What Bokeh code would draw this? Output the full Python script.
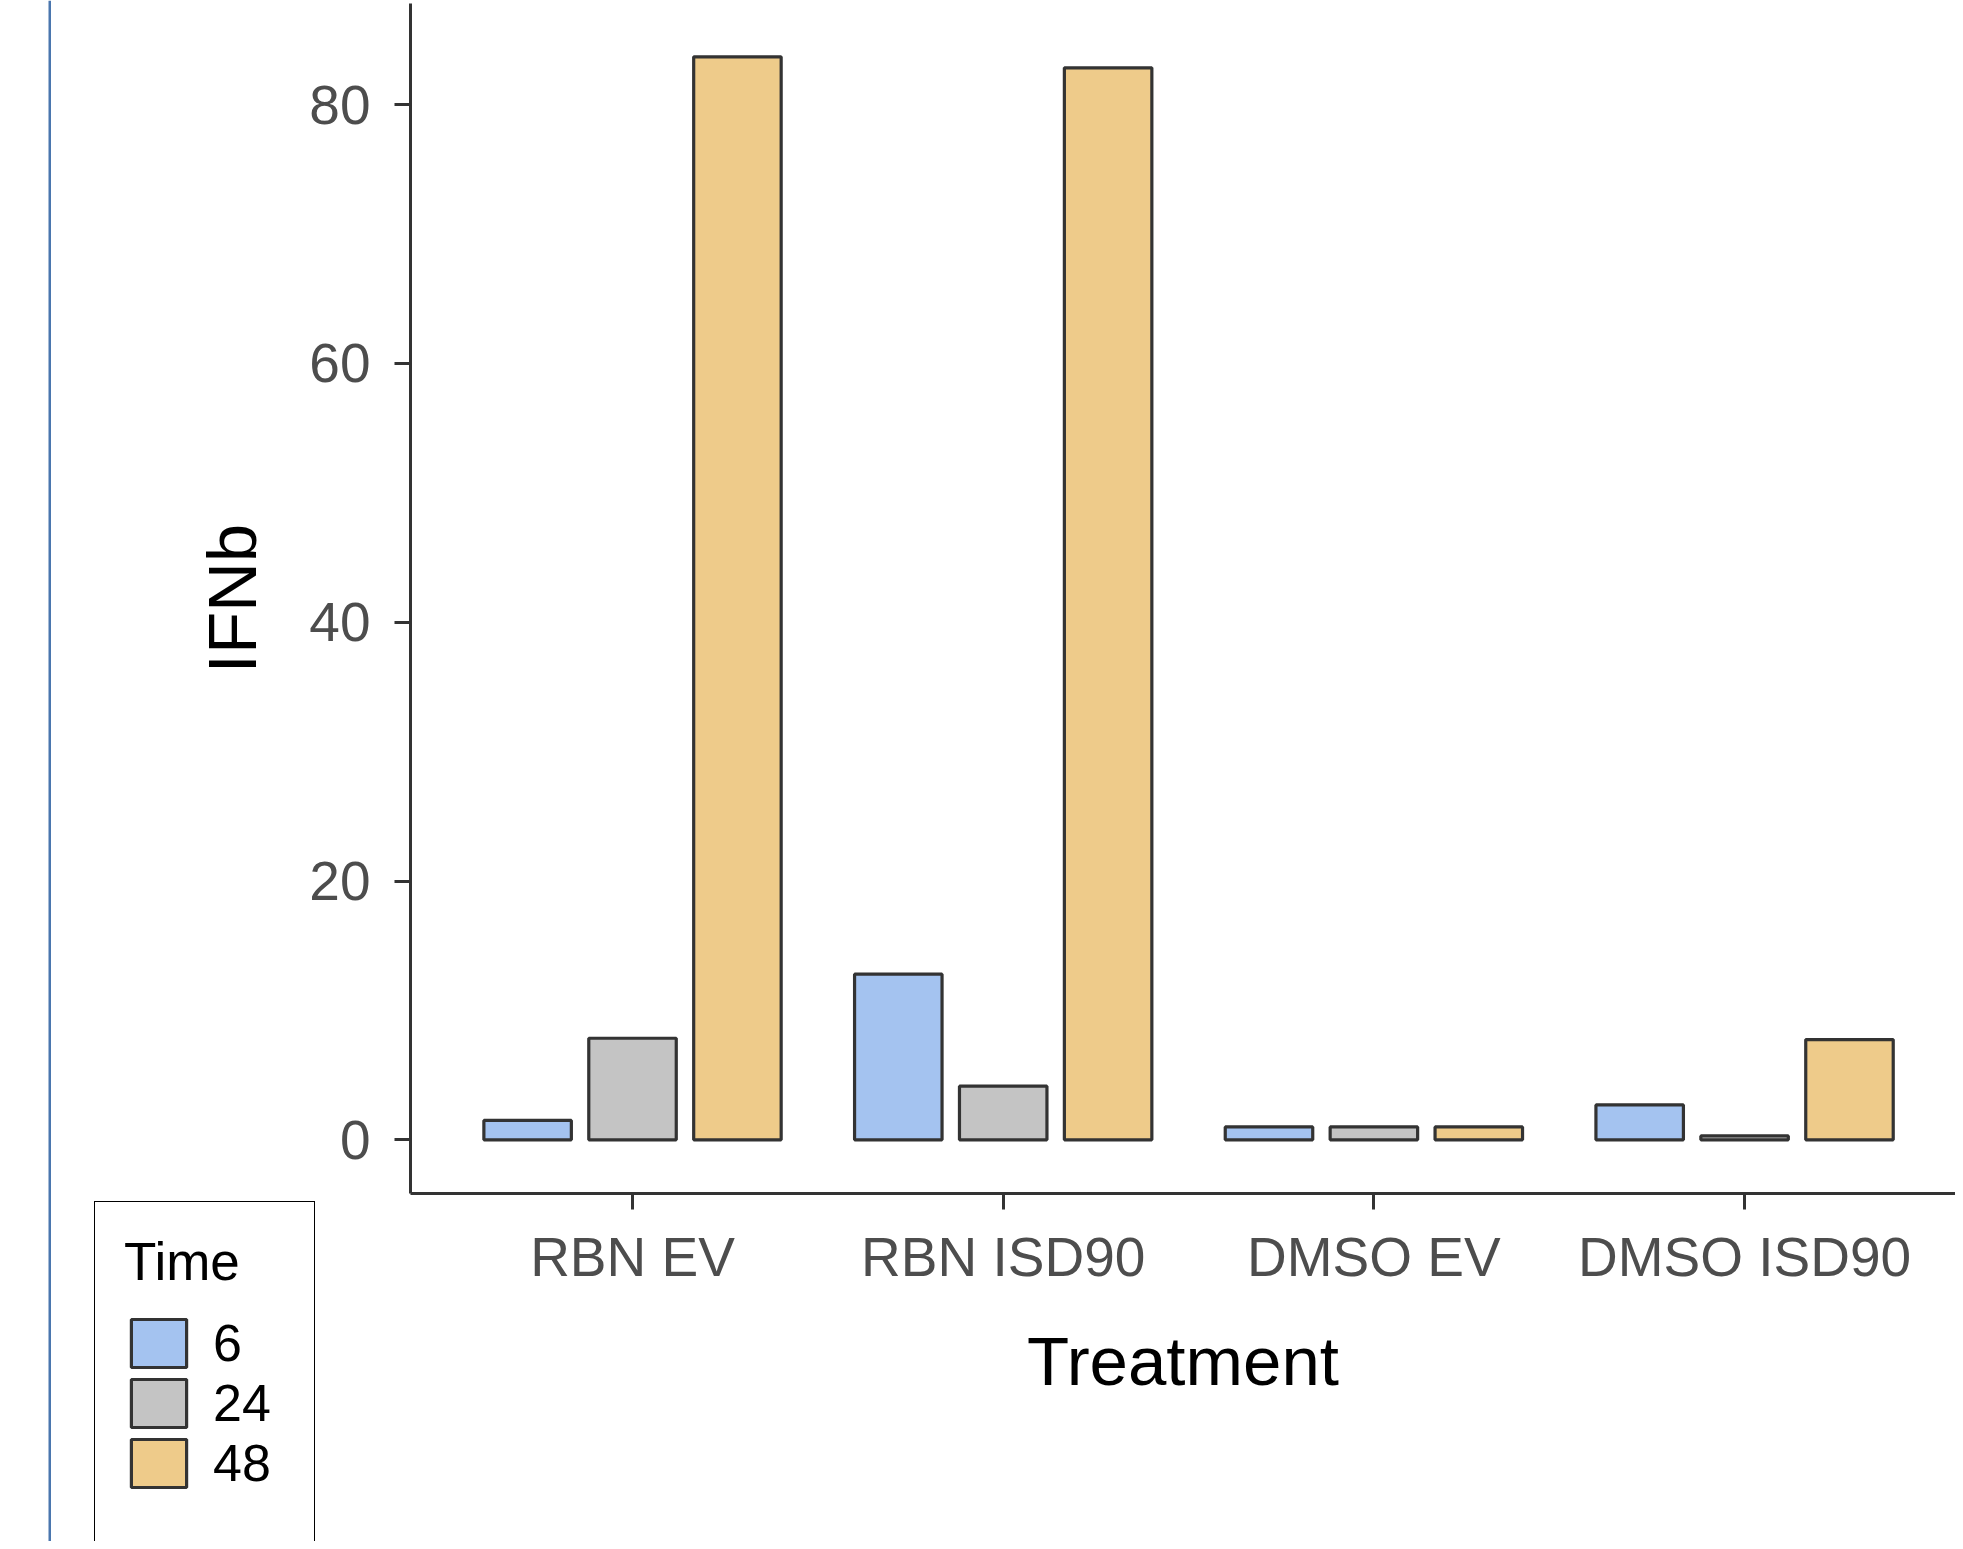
from bokeh.plotting import figure
from bokeh.models import (ColumnDataSource, Range1d, FixedTicker,
                          Legend, LegendItem, BoxAnnotation)
from bokeh.transform import dodge
from bokeh.embed import file_html
from bokeh.resources import INLINE

# ---- data ----
treatments = ["RBN EV", "RBN ISD90", "DMSO EV", "DMSO ISD90"]
times = ["6", "24", "48"]
ifnb_6 = [1.5, 12.8, 1.0, 2.7]
ifnb_24 = [7.85, 4.15, 1.0, 0.3]
ifnb_48 = [83.7, 82.85, 1.0, 7.75]
y_ticks = [0, 20, 40, 60, 80]
colors = ["#A4C3F0", "#C4C4C4", "#EECB8A"]

FONT = "Liberation Sans"
W, H = 1955, 1541

# panel limits in data units (ggplot-style expansion)
X_LO, X_HI = 0.401, 4.569
Y_LO, Y_HI = -4.15, 87.8

# discrete positions of the treatments (1..n) on the x scale
xpos = list(range(1, len(treatments) + 1))

# The frame fills the canvas; axes are pinned at the panel limits so that the
# legend can sit in the lower-left corner like in the ggplot output.
p = figure(
    x_range=Range1d(-0.705, 4.569),
    y_range=Range1d(-31.04, 88.05),
    width=W, height=H, output_backend="svg", toolbar_location=None,
    min_border_left=0, min_border_right=0, min_border_top=0,
    min_border_bottom=0,
)

src = ColumnDataSource(dict(xpos=xpos, treatment=treatments,
                            t6=ifnb_6, t24=ifnb_24, t48=ifnb_48))
offsets = [-0.283, 0.0, 0.283]
rends = []
for field, off, col in zip(["t6", "t24", "t48"], offsets, colors):
    r = p.vbar(x=dodge("xpos", off), top=field, bottom=0,
               width=0.236, source=src, fill_color=col,
               line_color="#333333", line_width=3.2)
    rends.append(r)

# invisible renderer used to extend the legend box downward
dummy = p.vbar(x=[], top=[], width=0.2, fill_alpha=0, line_alpha=0)

items = [LegendItem(label=t, renderers=[r]) for t, r in zip(times, rends)]
items.append(LegendItem(label=" ", renderers=[dummy]))

legend = Legend(
    items=items, title="Time", location=(94, -42), orientation="vertical",
    title_text_font=FONT, title_text_font_size="53px", title_text_color="black",
    title_text_font_style="normal", title_standoff=21,
    label_text_font=FONT, label_text_font_size="52px", label_text_color="black",
    glyph_width=69, glyph_height=60, label_height=60, label_width=72,
    label_standoff=20, spacing=0, padding=29, margin=0,
    border_line_color="black", border_line_width=1.6, border_line_alpha=1.0,
    background_fill_color="white", background_fill_alpha=1.0,
)
p.add_layout(legend, "center")

# axes styling (ggplot theme_classic look)
for ax in (p.xaxis, p.yaxis):
    ax.axis_line_color = "#333333"
    ax.axis_line_width = 3
    ax.major_tick_line_color = "#333333"
    ax.major_tick_line_width = 3
    ax.major_tick_out = 16
    ax.major_tick_in = 0
    ax.minor_tick_line_color = None
    ax.major_label_text_font = FONT
    ax.major_label_text_font_size = "55px"
    ax.major_label_text_color = "#4D4D4D"
    ax.axis_label_text_font = FONT
    ax.axis_label_text_font_size = "69px"
    ax.axis_label_text_font_style = "normal"
    ax.axis_label_text_color = "black"

p.xaxis.fixed_location = Y_LO
p.xaxis.bounds = (X_LO, X_HI)
p.yaxis.fixed_location = X_LO
p.yaxis.bounds = (Y_LO, Y_HI)

p.xaxis.axis_label = "Treatment"
p.yaxis.axis_label = "IFNb"
p.xaxis.ticker = FixedTicker(ticks=xpos)
p.xaxis.major_label_overrides = {x: t for x, t in zip(xpos, treatments)}
p.yaxis.ticker = FixedTicker(ticks=y_ticks)
p.xaxis.major_label_standoff = 16
p.yaxis.major_label_standoff = 24
p.xaxis.axis_label_standoff = 32
p.yaxis.axis_label_standoff = 35

p.grid.visible = False
p.outline_line_color = None
p.background_fill_color = "white"
p.border_fill_color = "white"

# thin blue vertical rule at the far left of the screenshot
p.add_layout(BoxAnnotation(left=48, right=50.5, left_units="canvas",
                           right_units="canvas", fill_color="#4A76AE",
                           fill_alpha=1.0, line_color=None))

open("out.html", "w").write(file_html(p, INLINE))
